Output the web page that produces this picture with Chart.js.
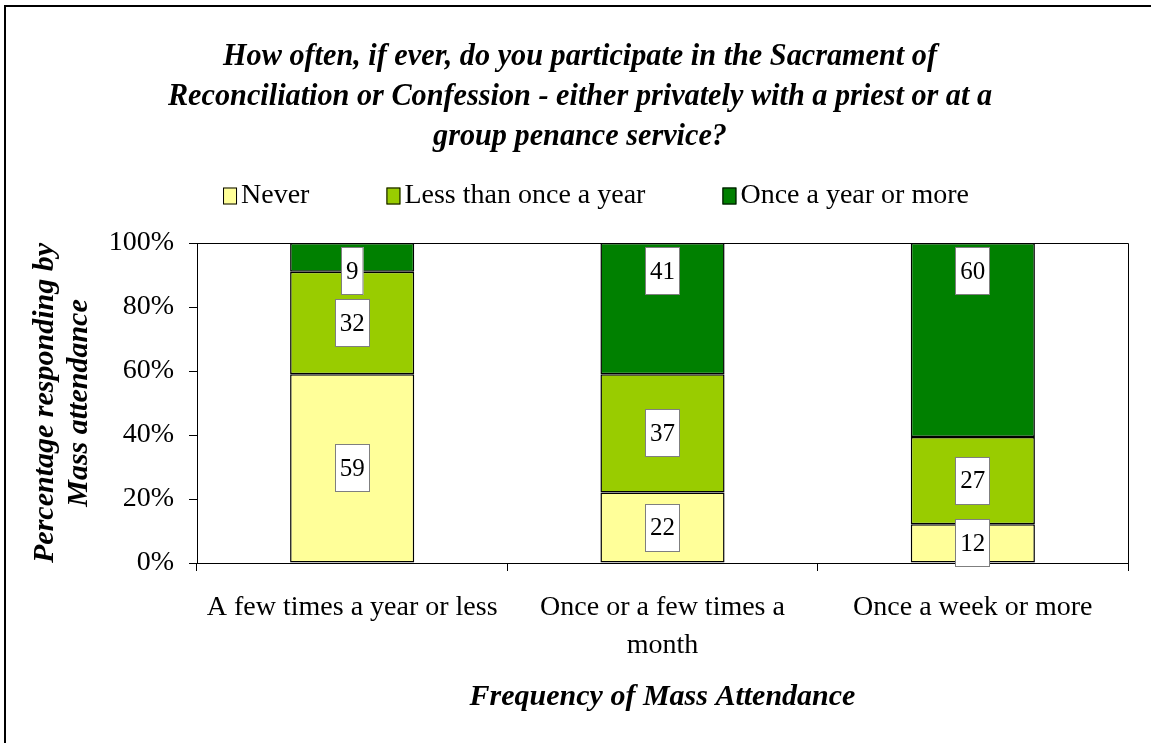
<!DOCTYPE html>
<html>
<head>
<meta charset="utf-8">
<script src="https://cdn.jsdelivr.net/npm/chart.js@4/dist/chart.umd.min.js"></script>
<style>
  html, body { margin: 0; padding: 0; background: #fff; }
  #wrap { position: relative; width: 1151px; height: 743px; }
</style>
</head>
<body>
<div id="wrap"><canvas id="chart" width="1151" height="743"></canvas></div>
<script>
// categories (x axis)
const categories = [
  "A few times a year or less",
  ["Once or a few times a", "month"],
  "Once a week or more"
];

// series values, percent of respondents
const never = [59, 22, 12];
const lessThanOnce = [32, 37, 27];
const onceOrMore = [9, 41, 60];

const seriesNames = ["Never", "Less than once a year", "Once a year or more"];
const seriesColors = ["#FFFF99", "#99CC00", "#008000"];

const yTicks = [0, 20, 40, 60, 80, 100];

const titleLines = [
  "How often, if ever, do you participate in the Sacrament of",
  "Reconciliation or Confession - either privately with a priest or at a",
  "group penance service?"
];
const xTitle = "Frequency of Mass Attendance";
const yTitle = ["Percentage responding by", "Mass attendance"];

const SERIF = "'Liberation Serif', 'Times New Roman', serif";

// 100% stacked: each column is scaled to its own total
const raw = [never, lessThanOnce, onceOrMore];
const totals = categories.map((_, i) => raw.reduce((s, arr) => s + arr[i], 0));
const pct = raw.map(arr => arr.map((v, i) => v / totals[i] * 100));

const textPlugin = {
  id: "texts",
  afterDraw(chart) {
    const ctx = chart.ctx;
    const area = chart.chartArea;
    ctx.save();

    // frame around the whole picture (only left/top visible)
    ctx.fillStyle = "#000";
    ctx.fillRect(4, 5, 2, 800);
    ctx.fillRect(4, 5, 1200, 2);

    // plot area box (top and right side)
    ctx.strokeStyle = "#000";
    ctx.lineWidth = 1;
    ctx.beginPath();
    ctx.moveTo(area.left, area.top + 0.5);
    ctx.lineTo(area.right + 0.5, area.top + 0.5);
    ctx.lineTo(area.right + 0.5, area.bottom);
    ctx.stroke();

    // title, condensed bold italic
    ctx.fillStyle = "#000";
    ctx.textBaseline = "middle";
    ctx.textAlign = "center";
    ctx.font = "italic bold 32px " + SERIF;
    const w1 = ctx.measureText(titleLines[0]).width;
    const sx = 714 / w1;
    titleLines.forEach((line, i) => {
      ctx.save();
      ctx.translate(580, 57 + i * 40);
      ctx.scale(sx, 1);
      ctx.fillText(line, 0, 0);
      ctx.restore();
    });

    // legend
    ctx.font = "28px " + SERIF;
    ctx.textAlign = "left";
    const boxW = 14, boxH = 17, gapBox = 4, gapItem = 77;
    const widths = seriesNames.map(n => boxW + gapBox + ctx.measureText(n).width);
    const total = widths.reduce((a, b) => a + b, 0) + gapItem * (seriesNames.length - 1);
    let lx = 596 - total / 2;
    const ly = 196;
    seriesNames.forEach((n, i) => {
      ctx.fillStyle = seriesColors[i];
      ctx.fillRect(lx, ly - boxH / 2, boxW, boxH);
      ctx.strokeStyle = "#000";
      ctx.lineWidth = 1;
      ctx.strokeRect(lx + 0.5, ly - boxH / 2 + 0.5, boxW - 1, boxH - 1);
      ctx.fillStyle = "#000";
      ctx.fillText(n, lx + boxW + gapBox, ly);
      lx += widths[i] + gapItem;
    });

    // axis titles
    ctx.font = "italic bold 30px " + SERIF;
    ctx.textAlign = "center";
    ctx.fillText(xTitle, (area.left + area.right) / 2, 697);
    ctx.save();
    ctx.translate(45, 403);
    ctx.rotate(-Math.PI / 2);
    ctx.fillText(yTitle[0], 0, 0);
    ctx.fillText(yTitle[1], 0, 34);
    ctx.restore();

    ctx.restore();
  }
};

const labelPlugin = {
  id: "boxLabels",
  afterDatasetsDraw(chart) {
    const ctx = chart.ctx;
    const area = chart.chartArea;
    ctx.save();
    ctx.font = "25px " + SERIF;
    ctx.textAlign = "center";
    ctx.textBaseline = "middle";
    const last = chart.data.datasets.length - 1;
    chart.data.datasets.forEach((ds, di) => {
      const meta = chart.getDatasetMeta(di);
      meta.data.forEach((bar, i) => {
        const txt = String(raw[di][i]);
        const w = ctx.measureText(txt).width + 10;
        const h = 48;
        let cy = (bar.y + bar.base) / 2;
        if (di === last) cy = area.top + 4 + h / 2;
        const x0 = Math.round(bar.x - w / 2), y0 = Math.round(cy - h / 2);
        ctx.fillStyle = "#fff";
        ctx.fillRect(x0, y0, w, h);
        ctx.strokeStyle = "#7f7f7f";
        ctx.lineWidth = 1;
        ctx.strokeRect(x0 + 0.5, y0 + 0.5, w - 1, h - 1);
        ctx.fillStyle = "#000";
        ctx.fillText(txt, bar.x, cy + 1);
      });
    });
    ctx.restore();
  }
};

new Chart(document.getElementById("chart"), {
  type: "bar",
  data: {
    labels: categories,
    datasets: seriesNames.map((name, i) => ({
      label: name,
      data: pct[i],
      backgroundColor: seriesColors[i],
      borderColor: "#000",
      borderWidth: 1.5,
      borderSkipped: false,
      categoryPercentage: 0.4,
      barPercentage: 1
    }))
  },
  options: {
    responsive: false,
    animation: false,
    devicePixelRatio: 1,
    layout: { padding: { top: 243, right: 23, bottom: 0, left: 0 } },
    plugins: {
      legend: { display: false },
      title: { display: false },
      tooltip: { enabled: false }
    },
    scales: {
      x: {
        stacked: true,
        afterFit: s => { s.height = 180; },
        border: { display: true, color: "#000", width: 1 },
        grid: { offset: true, drawOnChartArea: false, drawTicks: true, tickLength: 8, color: "#000" },
        ticks: {
          color: "#000",
          padding: 18,
          maxRotation: 0,
          autoSkip: false,
          font: { family: SERIF, size: 28, lineHeight: 38 / 28 }
        }
      },
      y: {
        stacked: true,
        min: 0,
        max: 100,
        afterFit: s => { s.width = 197; },
        afterBuildTicks: s => { s.ticks = yTicks.map(v => ({ value: v })); },
        border: { display: true, color: "#000", width: 1 },
        grid: { drawOnChartArea: false, drawTicks: true, tickLength: 8, color: "#000" },
        ticks: {
          color: "#000",
          padding: 15,
          callback: v => v + "%",
          font: { family: SERIF, size: 28 }
        }
      }
    }
  },
  plugins: [labelPlugin, textPlugin]
});
</script>
</body>
</html>
